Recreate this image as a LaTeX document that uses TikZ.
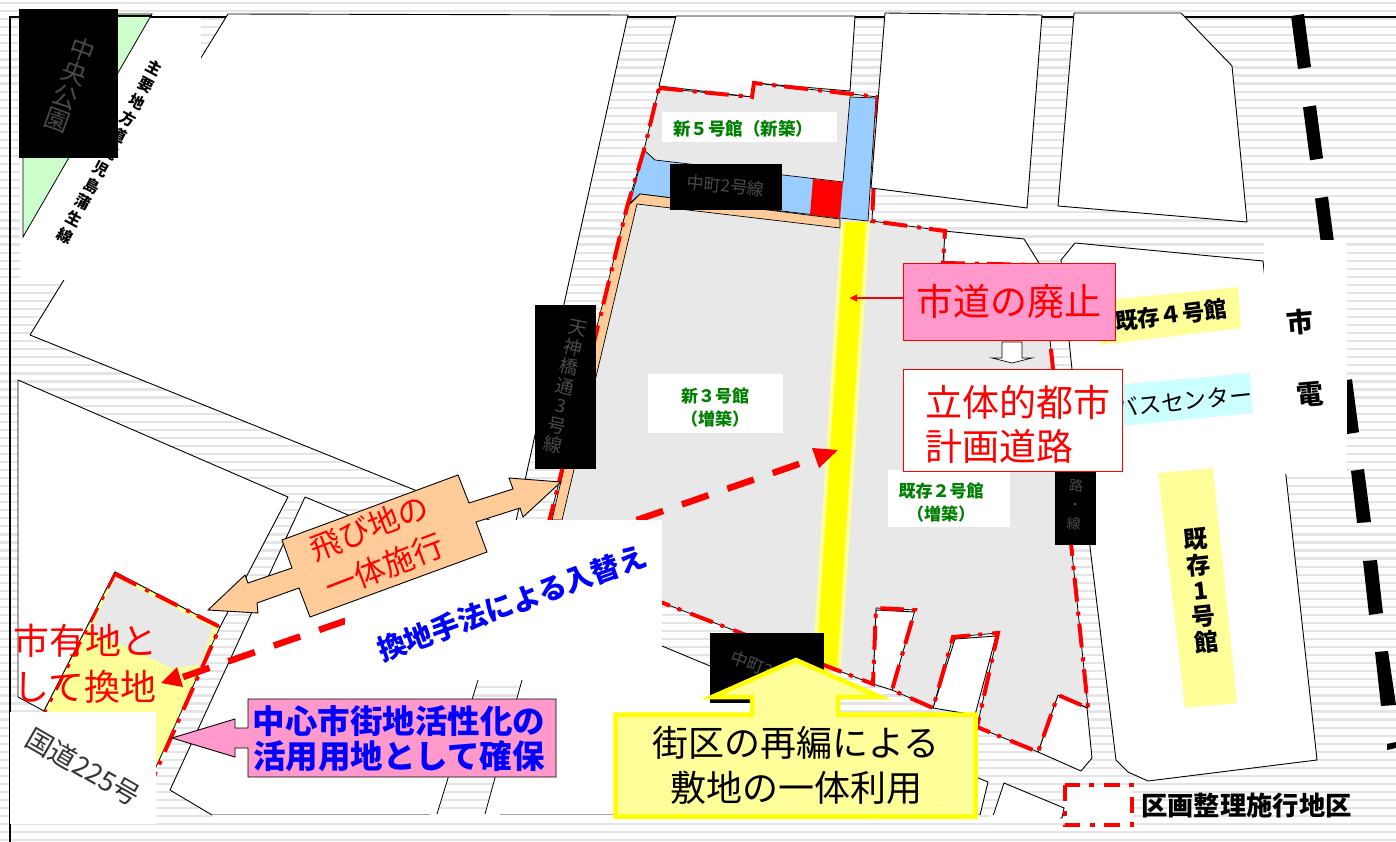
\documentclass[tikz,border=0pt]{standalone}
\usepackage{fontspec}
\setmainfont{Noto Sans CJK JP}
\usetikzlibrary{arrows.meta}
\newcommand\fsz[2]{\fontsize{#1}{#2}\selectfont}
\definecolor{stripe}{HTML}{E4E4E4}
\definecolor{sitegrey}{HTML}{E8E8E8}
\definecolor{paleyellow}{HTML}{FFFF99}
\definecolor{pureyellow}{HTML}{FFFF00}
\definecolor{purered}{HTML}{FF0000}
\definecolor{pinkbox}{HTML}{FF99CC}
\definecolor{orangebox}{HTML}{FFCC99}
\definecolor{bluezone}{HTML}{99CCFF}
\definecolor{greenpark}{HTML}{CCFFCC}
\definecolor{cyanlabel}{HTML}{CCFFFF}
\definecolor{greentext}{HTML}{008000}
\definecolor{ghost}{HTML}{4A4A4A}
\tikzset{
  block/.style={fill=white,draw=black,line width=0.9pt,line join=round},
  redbound/.style={draw=purered,line width=4pt,dash pattern=on 24pt off 10pt on 4pt off 8pt},
  redarrow/.style={draw=purered,line width=6.5pt,dash pattern=on 28pt off 20pt},
  thin black/.style={draw=black,line width=0.8pt},
  plainlabel/.style={fill=white,inner sep=0pt,outer sep=0pt,anchor=north west},
  blackbox/.style={fill=black,inner sep=0pt,outer sep=0pt,anchor=north west},
  ghosttext/.style={text=ghost,inner sep=0pt,align=center},
  bld/.style={inner sep=0pt,align=center},
  rail/.style={fill=black}
}
\begin{document}
\begin{tikzpicture}[x=1pt,y=-1pt]
\useasboundingbox (0,0) rectangle (1396,842);
\fill[white] (0,0) rectangle (1396,842);
% stripes
\foreach \k in {0,...,104} {\fill[stripe] (0,{2+8.05*\k}) rectangle (1396,{4.2+8.05*\k});}
% frame
\draw[black,line width=2pt] (1396,17) -- (10,17) -- (10,842);
% rail
\foreach \d in {0,...,4} {
  \fill[rail] ({1291+12*\d},{16+91.3*\d}) -- ({1304+12*\d},{14+91.3*\d}) -- ({1311+12*\d},{67+91.3*\d}) -- ({1298+12*\d},{69+91.3*\d}) -- cycle;
}
\fill[rail] (1351,471) -- (1364,469) -- (1371,522) -- (1357,523) -- cycle;
\fill[rail] (1363,561) -- (1377,560) -- (1383,613) -- (1369,615) -- cycle;
\fill[rail] (1375,652) -- (1388,651) -- (1396,705) -- (1381,706) -- cycle;
\fill[rail] (1387,744) -- (1396,742) -- (1396,748) -- (1387,750) -- cycle;
% white blocks
\draw[block] (228,14) -- (628,15) -- (514,530) -- (30,335) -- cycle;
\draw[block] (18,380) -- (288,497) -- (220,627) -- (115,572) -- (44,711) -- (18,697) -- cycle;
\draw[block] (305,497) -- (988,782) -- (980,815) -- (212,815) -- (170,790) -- cycle;
\fill[white] (212,815) rectangle (980,817);
\begin{scope}
  \clip (478,680) -- (522,680) -- (485,814) -- (437,814) -- cycle;
  \foreach \k in {80,...,104} {\fill[stripe] (0,{2+8.05*\k}) rectangle (1396,{4.2+8.05*\k});}
\end{scope}
\draw[thin black] (478,680) -- (437,814) (522,680) -- (485,814);
\fill[white] (430,814) rectangle (500,818);
\draw[block] (676,16) -- (855,16) -- (850,91) -- (754,83) -- (752,97) -- (659,86) -- cycle;
\draw[block] (944,231) -- (1024,239) -- (1039,263) -- (1040,300) -- (944,300) -- cycle;
\draw[block] (1075,243) -- (1263,261) -- (1286,476) -- (1317,760) -- (1148,781) -- (1128,772) -- (1116,760) -- (1090,547) -- (1069,340) -- (1061,260) -- cycle;
\draw[block] (1004,783) -- (1064,808) -- (1062,818) -- (993,816) -- cycle;
\fill[white] (990,815) rectangle (1060,818.5);
% notches
\draw[block] (876,610) -- (915,612) -- (892,690) -- (873,684) -- cycle;
\draw[block] (955,639) -- (996,636) -- (975,715) -- (933,708) -- cycle;
\draw[block] (1058,695) -- (1087,708) -- (1092,758) -- (1081,771) -- (1038,752) -- cycle;
% main site
\path[fill=sitegrey,draw=black,line width=0.8pt,line join=round]
  (659,88) -- (752,97) -- (754,83) -- (878,97) -- (872,221) -- (945,231) -- (943,263) -- (1040,265) -- (1050,340) -- (1088,708)
  -- (1058,695) -- (1038,752) -- (977,727) -- (998,633) -- (953,637) -- (933,708) -- (892,690) -- (915,610) -- (876,608) -- (873,684)
  -- (663,603) -- (535,570) -- (550,518) -- (597,330) -- (627,207) -- (644,150) -- cycle;
% blue, red, orange zones
\draw[fill=bluezone,draw=black,line width=0.7pt] (644,150) -- (655,160) -- (843,182) -- (850,97) -- (876,98) -- (868,221) -- (840,218) -- (640,194) -- (630,203) -- cycle;
\fill[purered] (813,179) -- (843,182) -- (840,218) -- (810,215) -- cycle;
\draw[fill=orangebox,draw=black,line width=0.7pt] (640,194) -- (840,219) -- (840,228) -- (637,204) -- (600,360) -- (562,520) -- (552,520) -- (596,330) -- (627,207) -- cycle;
% road
\fill[paleyellow] (841,222) -- (870,222) -- (841,670) -- (812,670) -- cycle;
\fill[pureyellow] (845,222) -- (866,222) -- (837,670) -- (816,670) -- cycle;
% red site boundary
\draw[redbound,line join=miter]
  (659,88) -- (752,97) -- (754,83) -- (878,97) -- (872,221) -- (945,231) -- (943,263) -- (1040,265) -- (1050,340) -- (1088,708)
  -- (1058,695) -- (1038,752) -- (977,727) -- (998,633) -- (953,637) -- (933,708) -- (892,690) -- (915,610) -- (876,608) -- (873,684)
  -- (663,603) -- (535,570) -- (550,518) -- (597,330) -- (627,207) -- (644,150) -- cycle;
% T2 and T3 over it
\draw[block] (885,13) -- (1042,15) -- (1027,208) -- (871,188) -- cycle;
\draw[block] (1074,13) -- (1181,13) -- (1232,66) -- (1247,222) -- (1058,206) -- cycle;
% exchange plot
\draw[fill=paleyellow,draw=black,line width=0.8pt] (115,572) -- (220,627) -- (150,780) -- (44,711) -- cycle;
\fill[sitegrey] (115,577) -- (213,628) -- (200,665) -- (172,668) -- (118,643) -- (90,632) -- cycle;
\draw[redbound] (115,574) -- (220,627) -- (150,785);
\draw[redbound,dash pattern=on 16pt off 9pt on 4pt off 9pt,line width=2.8pt] (115,574) -- (44,714);
% road label top-left
\node[plainlabel,minimum width=181pt,minimum height=262pt] (roadlabel) at (20,18) {};
\draw[fill=greenpark,draw=black,line width=0.8pt] (23,14) -- (152,14) -- (23,237) -- cycle;
\draw[black,line width=2pt] (23,16.5) -- (152,16.5);
\node[bld,rotate=-28,font=\bfseries\fsz{15.5}{19}] (roadtext) at (110,152) {主\\要\\地\\方\\道\\鹿\\児\\島\\蒲\\生\\線};
% black label boxes
\node[blackbox,minimum width=99pt,minimum height=149pt] (parkbox) at (19,9) {};
\node[ghosttext,rotate=-20,font=\fsz{25}{25}] (parktext) at (70,85) {中\\央\\公\\園};
% white plain labels for buildings
\node[plainlabel,minimum width=175pt,minimum height=30pt] (b5box) at (662,112) {};
\node[bld,text=greentext,font=\bfseries\fsz{17.5}{18}] (b5) at (743,129) {新５号館（新築）};
\node[plainlabel,minimum width=135pt,minimum height=59pt] (b3box) at (648,374) {};
\node[bld,text=greentext,font=\bfseries\fsz{17}{23}] (b3) at (715,408) {新３号館\\（増築）};
\node[plainlabel,minimum width=122pt,minimum height=57pt] (b2box) at (888,470) {};
\node[bld,text=greentext,font=\bfseries\fsz{17}{23}] (b2) at (941,503) {既存２号館\\（増築）};
\node[blackbox,minimum width=112pt,minimum height=46pt] (c2box) at (670,164) {};
\node[ghosttext,rotate=-6,font=\fsz{17}{17}] (c2) at (726,186) {中町2号線};
\node[blackbox,minimum width=61pt,minimum height=164pt] (tbox) at (535,305) {};
\node[ghosttext,rotate=-12,font=\fsz{18.5}{20}] (ttext) at (565,387) {天\\神\\橋\\通\\3\\号\\線};
\node[blackbox,minimum width=114pt,minimum height=70pt] (c3box) at (710,633) {};
\node[ghosttext,rotate=-20,font=\fsz{17}{17}] (c3) at (768,670) {中町3号線};
\node[blackbox,minimum width=41pt,minimum height=80pt] (rbox) at (1055,465) {};
\node[ghosttext,rotate=-4,font=\fsz{14}{19}] (rtext) at (1075,505) {路\\・\\線};
% east labels
\fill[paleyellow] (1100,345) -- (1108,300) -- (1238,287) -- (1241,328) -- cycle;
\node[bld,rotate=7,font=\bfseries\fsz{22.5}{22}] (b4) at (1171,315) {既存４号館};
\fill[cyanlabel] (1115,385) -- (1250,373) -- (1253,413) -- (1120,426) -- cycle;
\node[bld,rotate=6,text=black,font=\fsz{23}{23}] (bus) at (1184,401) {バスセンター};
\fill[paleyellow] (1158,473) -- (1213,468) -- (1237,703) -- (1185,708) -- cycle;
\node[bld,rotate=6,font=\bfseries\fsz{24}{26}] (b1) at (1201,591) {既\\存\\1\\号\\館};
\node[plainlabel,minimum width=83pt,minimum height=234pt] (tram) at (1264,240) {};
\node[bld,rotate=5,font=\bfseries\fsz{27}{27}] (t1) at (1300,322) {市};
\node[bld,rotate=5,font=\bfseries\fsz{27}{27}] (t2) at (1310,395) {電};
% road label text 225
\node[plainlabel,minimum width=146pt,minimum height=112pt] (r225box) at (10,712) {};
\node[bld,rotate=-30,text=black!80,font=\fsz{27}{27}] (r225) at (83,767) {国道225号};
% pink closure label
\node[draw=purered,fill=pinkbox,line width=1pt,minimum width=212pt,minimum height=77pt,inner sep=0pt,text=purered,font=\fsz{37}{37}] (closure) at (1009,301.5) {市道の廃止};
\coordinate (roadpt) at (849,298);
\draw[purered,line width=1.5pt,-{Latex[length=8pt,width=8pt]}] (closure.west |- roadpt) -- (roadpt);
% open down arrow
\draw[fill=white,draw=black,line width=0.7pt] (1002,342) -- (1022,342) -- (1022,358) -- (1032,358) -- (1012,363) -- (992,358) -- (1002,358) -- cycle;
% elevated road box
\node[draw=purered,fill=white,line width=1pt,minimum width=219pt,minimum height=102pt,inner sep=0pt] (elev) at (1012.5,420) {};
\node[bld,anchor=north west,text=purered,font=\fsz{37}{44},align=left] (elevtext) at (925,385) {立体的都市\\計画道路};
% dashed arrow
\coordinate (dashA) at (183,677);
\coordinate (dashB) at (822,456);
\draw[redarrow] (dashA) -- (dashB);
\fill[purered] (161,683) -- (177,667) -- (183,687) -- cycle;
\fill[purered] (838,450) -- (812,448) -- (819,468) -- cycle;
% big white label
\node[plainlabel,minimum width=317pt,minimum height=160pt] (swap) at (345,520) {};
\node[bld,rotate=20,text=blue,font=\bfseries\fsz{28.5}{28}] (swaptext) at (512,603) {換地手法による入替え};
% orange double arrow
\draw[fill=orangebox,draw=black,line width=0.9pt,line join=miter] (208,610) -- (245,575) -- (248,583) -- (292,568) -- (282,540) -- (458,475) -- (469,503) -- (513,489) -- (509,478) -- (561,482) -- (523,517) -- (520,508) -- (476,522) -- (487,552) -- (310,617) -- (299,588) -- (257,603) -- (258,613) -- cycle;
\node[bld,rotate=21,text=purered,font=\fsz{31}{41}] (tobichi) at (377,547) {飛び地の\\一体施行};
% plot label
\node[bld,text=purered,font=\fsz{36}{46}] (plot) at (85,664) {市有地と\\して換地};
% pink arrow
\draw[fill=pinkbox,draw=black,line width=0.9pt] (172,738) -- (235,719) -- (235,728) -- (248,728) -- (248,699) -- (556,699) -- (556,777) -- (248,777) -- (248,748) -- (235,748) -- (235,757) -- cycle;
\node[bld,text=blue,font=\bfseries\fsz{32.5}{35}] (pinktext) at (399,739) {中心市街地活性化の\\活用用地として確保};
% yellow arrow box
\draw[fill=paleyellow,draw=pureyellow,line width=4.5pt,line join=miter] (615.5,714.5) -- (752,714.5) -- (752,697) -- (712,697) -- (796,660) -- (880,697) -- (838,697) -- (838,714.5) -- (975.5,714.5) -- (975.5,816.5) -- (615.5,816.5) -- cycle;
\node[bld,text=black,font=\fsz{36}{45}] (ytext) at (796,765) {街区の再編による\\敷地の一体利用};
% legend
\node[draw=none,fill=white,minimum width=67pt,minimum height=40pt,inner sep=0pt] (legbox) at (1098.5,805) {};
\draw[redbound,line width=4pt,dash pattern=on 16pt off 10pt on 5pt off 9pt] (legbox.north west) rectangle (legbox.south east);
\node[bld,anchor=west,font=\bfseries\fsz{26.3}{26}] (legtext) at (1141,805) {区画整理施行地区};
\end{tikzpicture}
\end{document}
